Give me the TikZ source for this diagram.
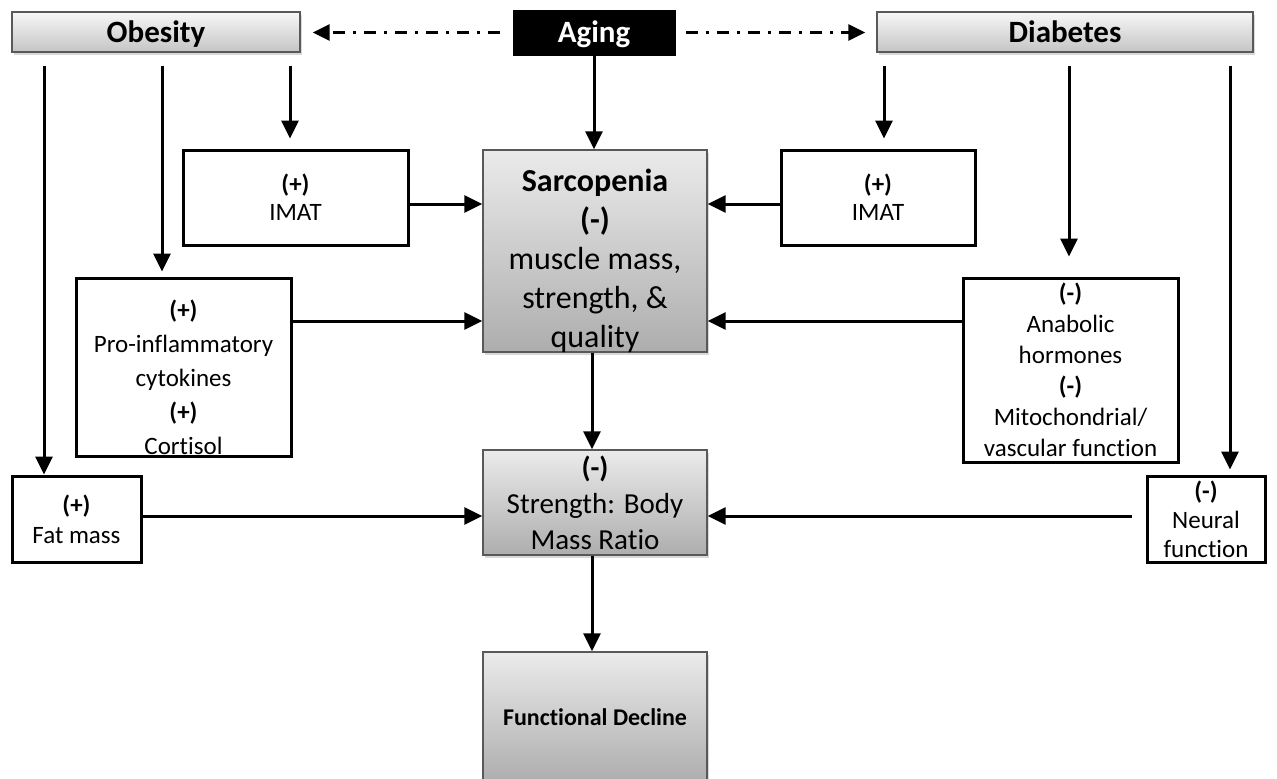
\documentclass[tikz,border=0pt]{standalone}
\usepackage{fontspec}
\setmainfont{Carlito}[RawFeature={-liga}]
\usetikzlibrary{arrows.meta,shadows,calc}
\begin{document}
\begin{tikzpicture}[x=1pt,y=-1pt,
  arr/.style={line width=3pt,-{Triangle[length=18pt,width=17pt]}},
  dd/.style={line width=3pt,dash pattern=on 12pt off 8pt on 3pt off 8pt,-{Triangle[length=17pt,width=16pt]}},
  gbox/.style={draw=black!65,line width=1.4pt,top color=black!3,bottom color=black!23,
     drop shadow={opacity=0.3,shadow xshift=2pt,shadow yshift=-3pt},inner sep=0pt,align=center},
  dbox/.style={draw=black!65,line width=1.4pt,top color=black!8,bottom color=black!32,
     drop shadow={opacity=0.3,shadow xshift=2pt,shadow yshift=-3pt},inner sep=0pt,align=center},
  wbox/.style={draw=black,line width=3pt,fill=white,inner sep=0pt,align=center},
  txt/.style={inner sep=0pt,align=center},
  titlef/.style={font=\fontsize{31}{36}\selectfont\bfseries,text height=22pt,text depth=2pt}
]
\useasboundingbox (0,0) rectangle (1277,779);
\fill[white] (0,0) rectangle (1277,779);

% top row
\node[gbox,titlef,minimum width=288pt,minimum height=40pt] (obesity) at (156,32) {Obesity};
\node[fill=black,draw=black,text=white,titlef,inner sep=0pt,minimum width=162pt,minimum height=45pt] (aging) at (594,32.5) {Aging};
\node[gbox,titlef,minimum width=376pt,minimum height=40pt] (diabetes) at (1065,32) {Diabetes};

% central column
\node[dbox,minimum width=224pt,minimum height=202pt] (sarc) at (595,251) {};
\node[txt,font=\fontsize{32}{39}\selectfont] (sarct) at (595,261)
  {\textbf{Sarcopenia}\\\textbf{(-)}\\muscle mass,\\strength, \&\\quality};
\node[dbox,minimum width=224pt,minimum height=105pt,font=\fontsize{29}{36}\selectfont] (strength) at (595,502.5)
  {\textbf{(-)}\\Strength: Body\\Mass Ratio};
\node[dbox,minimum width=224pt,minimum height=130pt,font=\fontsize{24}{28}\selectfont\bfseries] (func) at (595,717)
  {Functional Decline};

% side boxes
\node[wbox,minimum width=225pt,minimum height=95pt,font=\fontsize{25}{28}\selectfont] (imatl) at (295.5,197.5)
  {\textbf{(+)}\\IMAT};
\node[wbox,minimum width=194pt,minimum height=95pt,font=\fontsize{25}{28}\selectfont] (imatr) at (878,197.5)
  {\textbf{(+)}\\IMAT};
\node[wbox,minimum width=215pt,minimum height=178pt] (pro) at (183.5,367) {};
\node[txt,font=\fontsize{25}{34}\selectfont] (prot) at (183.5,377)
  {\textbf{(+)}\\Pro-inflammatory\\cytokines\\\textbf{(+)}\\Cortisol};
\node[wbox,minimum width=215pt,minimum height=184pt,font=\fontsize{25}{31}\selectfont] (ana) at (1070.5,370)
  {\textbf{(-)}\\Anabolic\\hormones\\\textbf{(-)}\\Mitochondrial/\\vascular function};
\node[wbox,minimum width=129pt,minimum height=86pt,font=\fontsize{25}{30}\selectfont] (fat) at (76.5,519)
  {\textbf{(+)}\\Fat mass};
\node[wbox,minimum width=118pt,minimum height=86pt,font=\fontsize{25}{29}\selectfont] (neural) at (1206,519)
  {\textbf{(-)}\\Neural\\function};

% dash-dot arrows from Aging
\draw[dd,shorten <=13pt,shorten >=12pt] (aging.west) -- (aging.west -| obesity.east);
\draw[dd,shorten <=11pt,shorten >=11pt] (aging.east) -- (aging.east -| diabetes.west);

% Aging down
\draw[arr] (aging.south) -- (aging.south |- sarc.north);

% Obesity branches
\draw[arr] ($(obesity.south -| 44,0)+(0,13)$) -- (fat.north -| 44,0);
\draw[arr,shorten >=5pt] ($(obesity.south -| 162,0)+(0,13)$) -- (pro.north -| 162,0);
\draw[arr,shorten >=10pt] ($(obesity.south -| 290,0)+(0,13)$) -- (imatl.north -| 290,0);

% Diabetes branches
\draw[arr,shorten >=10pt] ($(diabetes.south -| 884,0)+(0,13)$) -- (imatr.north -| 884,0);
\draw[arr,shorten >=20pt] ($(diabetes.south -| 1069,0)+(0,13)$) -- (ana.north -| 1069,0);
\draw[arr,shorten >=5pt] ($(diabetes.south -| 1230,0)+(0,13)$) -- (neural.north -| 1230,0);

% into Sarcopenia
\draw[arr] (imatl.east |- 0,204) -- (sarc.west |- 0,204);
\draw[arr] (imatr.west |- 0,204) -- (sarc.east |- 0,204);
\draw[arr] (pro.east |- 0,321) -- (sarc.west |- 0,321);
\draw[arr] (ana.west |- 0,321) -- (sarc.east |- 0,321);

% into Strength
\draw[arr] (fat.east |- 0,516) -- (strength.west |- 0,516);
\draw[arr,shorten <=14pt] (neural.west |- 0,516) -- (strength.east |- 0,516);

% central chain
\draw[arr] (sarc.south -| 592,0) -- (strength.north -| 592,0);
\draw[arr] (strength.south -| 592,0) -- (func.north -| 592,0);
\end{tikzpicture}
\end{document}
